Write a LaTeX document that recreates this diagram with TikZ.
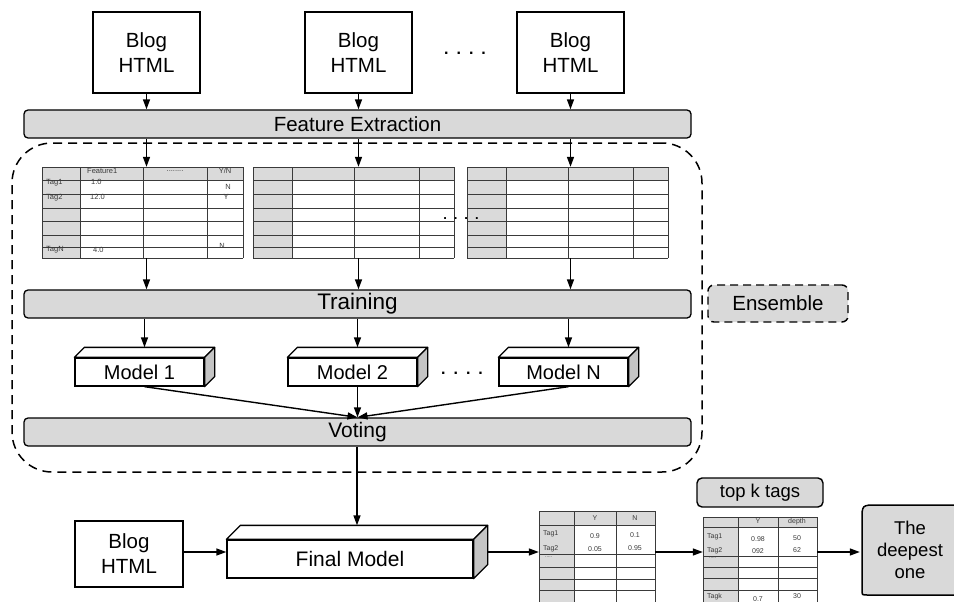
\documentclass[tikz,border=0pt]{standalone}
\usepackage{fontspec}
\setmainfont{Liberation Sans}
\usetikzlibrary{arrows.meta,calc}
\definecolor{barg}{HTML}{D9D9D9}
\definecolor{cellg}{HTML}{DADADA}
\definecolor{sideg}{HTML}{C4C4C4}
\definecolor{tline}{HTML}{3A3A3A}
\definecolor{ttext}{HTML}{3A3A3A}

\newcommand\boxthreed[2]{%
  \draw[fill=white,line width=1.3pt,line join=round] (#1.north west) -- ++(#2,-#2) -- ($(#1.north east)+(#2,-#2)$) -- (#1.north east) -- cycle;
  \draw[fill=sideg,line width=1.3pt,line join=round] (#1.north east) -- ++(#2,-#2) -- ($(#1.south east)+(#2,-#2)$) -- (#1.south east) -- cycle;}

\begin{document}
\begin{tikzpicture}[x=1pt,y=-1pt,
  arr/.style={-{Triangle[length=10pt,width=7pt]}, line width=1.4pt},
  blog/.style={draw, line width=1.4pt, fill=white, minimum width=107pt, minimum height=81pt, align=center, font=\fontsize{20.5}{25}\selectfont, inner sep=0pt},
  bar/.style={draw, fill=barg, rounded corners=4pt, minimum width=667pt, minimum height=28pt, inner sep=0pt, line width=1.3pt},
  model/.style={draw, fill=white, line width=1.3pt, minimum width=129pt, minimum height=28pt, inner sep=0pt, font=\fontsize{20}{22}\selectfont},
  tabnode/.style={draw=none, inner sep=0pt},
  tl/.style={draw=tline, line width=0.9pt},
  tt/.style={font=\fontsize{7.5}{8}\selectfont, text=ttext, inner sep=0pt},
  tts/.style={font=\fontsize{7}{8}\selectfont, text=ttext, inner sep=0pt},
  dotsn/.style={font=\fontsize{16}{16}\selectfont\bfseries, inner sep=0pt, anchor=base},
]
\useasboundingbox (0,0) rectangle (954,602);
\clip (0,0) rectangle (954,602);

% ---------- top blogs ----------
\node[blog] (b1) at (146.5,52.5) {Blog\\HTML};
\node[blog] (b2) at (358.5,52.5) {Blog\\HTML};
\node[blog] (b3) at (570.5,52.5) {Blog\\HTML};
\node[dotsn] (dt1) at (465,55) {.\hspace{8pt}.\hspace{8pt}.\hspace{8pt}.};

% ---------- bars ----------
\node[bar, font=\fontsize{20.5}{22}\selectfont] (fe) at (357.5,124) {Feature Extraction};
\node[bar, font=\fontsize{22.5}{24}\selectfont] (tr) at (357.5,304) {Training};
\node[bar, font=\fontsize{21}{23}\selectfont] (vo) at (357.5,432) {Voting};

% ---------- ensemble region ----------
\node[draw, dashed, dash pattern=on 9pt off 6pt, line width=1.5pt, rounded corners=40pt,
      minimum width=690pt, minimum height=329pt, inner sep=0pt] (reg) at (357,307.5) {};
\node[draw, dashed, dash pattern=on 8pt off 5pt, line width=1.4pt, fill=barg, rounded corners=6pt,
      minimum width=140pt, minimum height=37pt, inner sep=0pt, font=\fontsize{20.5}{22}\selectfont] (en) at (778,303.5) {Ensemble};

% ---------- tables 1-3 ----------
\node[tabnode, minimum width=201pt, minimum height=91pt] (t1) at (142.5,212.5) {};
\node[tabnode, minimum width=201pt, minimum height=91pt] (t2) at (353.5,212.5) {};
\node[tabnode, minimum width=201pt, minimum height=91pt] (t3) at (567.5,212.5) {};

\foreach \xa/\xb/\xc/\xd/\xe in {42/80/143/207/243, 253/292/354/419/454, 467/506/568/633/668}{
  \fill[cellg] (\xa,167) rectangle (\xe,180);
  \fill[cellg] (\xa,167) rectangle (\xb,258);
  \foreach \yy in {167,180,194,208,221,235,247,258}{
    \draw[tl] (\xa,\yy) -- (\xe,\yy);
  }
  \foreach \xx in {\xa,\xb,\xc,\xd,\xe}{
    \draw[tl] (\xx,167) -- (\xx,258);
  }
}
\node[tt, anchor=west] (h1) at (87,171) {Feature1};
\node[tt] (h2) at (175,171) {........};
\node[tt] (h3) at (225,171) {Y/N};
\node[tt, anchor=west] (r1a) at (46,183) {Tag1};
\node[tt, anchor=west] (r1b) at (91,182) {1.0};
\node[tt] (r1c) at (228,187) {N};
\node[tt, anchor=west] (r2a) at (46,198) {Tag2};
\node[tt, anchor=west] (r2b) at (90,197) {12.0};
\node[tt] (r2c) at (226,197) {Y};
\node[tt, anchor=west] (rna) at (46,250) {TagN};
\node[tt, anchor=west] (rnb) at (93,250) {4.0};
\node[tt] (rnc) at (222,246) {N};
\node[dotsn, font=\fontsize{13}{13}\selectfont\bfseries] (dt2) at (461,219) {.\hspace{7pt}.\hspace{7pt}.\hspace{7pt}.};

% ---------- models ----------
\node[model] (m1) at (139.5,372) {Model 1};
\node[model] (m2) at (352.5,372) {Model 2};
\node[model] (m3) at (563.5,372) {Model N};
\boxthreed{m1}{10}
\boxthreed{m2}{10}
\boxthreed{m3}{10}
\coordinate (m1t) at ($(m1.north)+(5,-10)$);
\coordinate (m2t) at ($(m2.north)+(5,-10)$);
\coordinate (m3t) at ($(m3.north)+(5,-10)$);
\node[dotsn] (dt3) at (462,374) {.\hspace{8pt}.\hspace{8pt}.\hspace{8pt}.};

% ---------- arrows upper part ----------
\draw[arr] (b1) -- (fe.north -| b1);
\draw[arr] (b2) -- (fe.north -| b2);
\draw[arr] (b3) -- (fe.north -| b3);
\draw[arr] (fe.south -| b1) -- (t1.north -| b1);
\draw[arr] (fe.south -| b2) -- (t2.north -| b2);
\draw[arr] (fe.south -| b3) -- (t3.north -| b3);
\draw[arr] (t1.south -| b1) -- (tr.north -| b1);
\draw[arr] (t2.south -| b2) -- (tr.north -| b2);
\draw[arr] (t3.south -| b3) -- (tr.north -| b3);
\draw[arr] (tr.south -| m1t) -- (m1t);
\draw[arr] (tr.south -| m2t) -- (m2t);
\draw[arr] (tr.south -| m3t) -- (m3t);
\coordinate (vt) at (vo.north -| m2t);
\draw[arr] (m1.south -| m1t) -- (vt);
\draw[arr] (m2.south -| m2t) -- (vt);
\draw[arr] (m3.south -| m3t) -- (vt);

% ---------- bottom part ----------
\node[blog, minimum width=108pt, minimum height=66pt] (bb) at (129,554) {Blog\\HTML};
\node[model, minimum width=246pt, minimum height=38pt, font=\fontsize{21}{23}\selectfont] (fm) at (350,559) {Final Model};
\boxthreed{fm}{14}
\coordinate (fmt) at ($(fm.north)+(7,-14)$);
\coordinate (fmr) at ($(fm.east)+(14,-7)$);
\draw[arr] (vo.south -| fmt) -- (fmt);
\draw[arr] (bb.east |- fmr) -- (fm.west |- fmr);

% table 4
\node[tabnode, minimum width=116pt, minimum height=92pt] (t4) at (597,557) {};
\fill[cellg] (539,511) rectangle (655,525);
\fill[cellg] (539,511) rectangle (574,603);
\foreach \yy in {511,525,554,567,579,590}{ \draw[tl] (539,\yy) -- (655,\yy); }
\foreach \xx in {539,574,616,655}{ \draw[tl] (\xx,511) -- (\xx,603); }
\node[tts] (a1) at (595,518) {Y};
\node[tts] (a2) at (635,518) {N};
\node[tts, anchor=west] (a3) at (543,534) {Tag1};
\node[tts] (a4) at (595,536) {0.9};
\node[tts] (a5) at (635,535) {0.1};
\node[tts, anchor=west] (a6) at (543,549) {Tag2};
\node[tts] (a7) at (595,549) {0.05};
\node[tts] (a8) at (635,548) {0.95};
\node[tts, anchor=west, font=\fontsize{5}{5}\selectfont] (a9) at (545,557) {.....};

% top k tags
\node[draw, fill=barg, rounded corners=5pt, line width=1.4pt, minimum width=126pt, minimum height=29pt,
      inner sep=0pt, font=\fontsize{18.5}{20}\selectfont] (tk) at (760,492.5) {top k tags};

% table 5
\node[tabnode, minimum width=114pt, minimum height=86pt] (t5) at (760,560) {};
\fill[cellg] (703,517) rectangle (817,527);
\fill[cellg] (703,517) rectangle (738,603);
\foreach \yy in {517,527,556,567,578,590}{ \draw[tl] (703,\yy) -- (817,\yy); }
\foreach \xx in {703,738,778,817}{ \draw[tl] (\xx,517) -- (\xx,603); }
\node[tts] (c1) at (758,521.5) {Y};
\node[tts] (c2) at (797,521.5) {depth};
\node[tts, anchor=west] (c3) at (707,537) {Tag1};
\node[tts] (c4) at (758,539) {0.98};
\node[tts] (c5) at (797,538) {50};
\node[tts, anchor=west] (c6) at (707,551) {Tag2};
\node[tts] (c7) at (758,551) {092};
\node[tts] (c8) at (797,550) {62};
\node[tts, anchor=west, font=\fontsize{5}{5}\selectfont] (c9) at (709,558) {.....};
\node[tts, anchor=west] (c10) at (707,597) {Tagk};
\node[tts] (c11) at (758,599) {0.7};
\node[tts] (c12) at (797,596) {30};

% deepest one
\draw[fill=barg, line width=1.5pt] (1000,505) -- (877,505) .. controls (862,505) .. (862,520) -- (862,590)
   .. controls (862,595) .. (867,595) -- (1000,595) -- cycle;
\node[tabnode, minimum width=100pt, minimum height=90pt, align=center,
      font=\fontsize{18.5}{22}\selectfont] (dp) at (910,550) {The\\deepest\\one};

\draw[arr] (fmr) -- (fmr -| t4.west);
\draw[arr] (t4.east |- fmr) -- (t5.west |- fmr);
\draw[arr] (t5.east |- fmr) -- (dp.west |- fmr);
\end{tikzpicture}
\end{document}
